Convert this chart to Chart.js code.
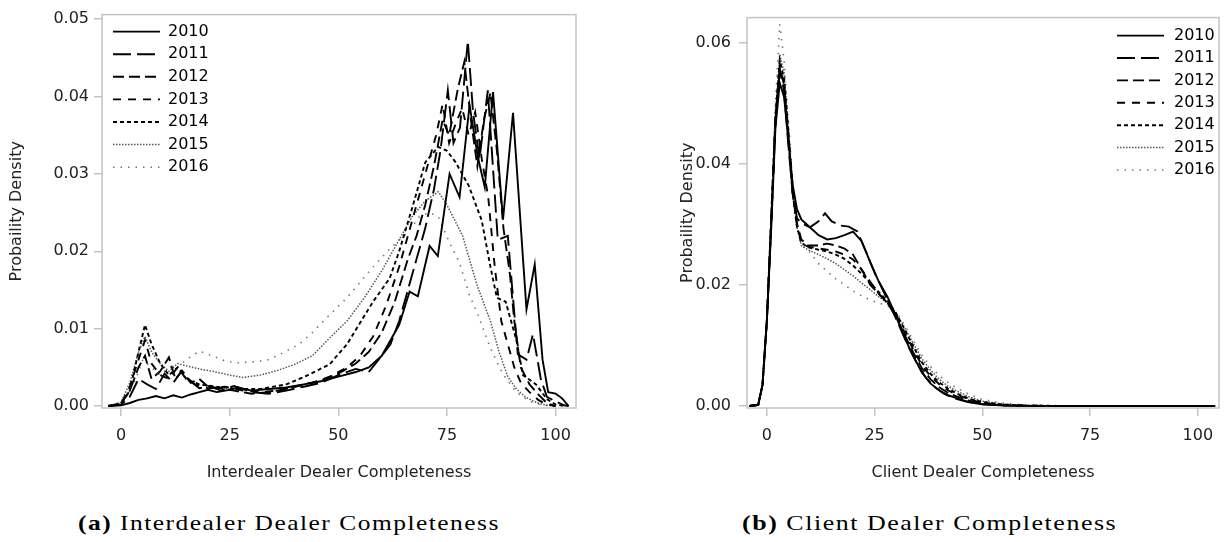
<!DOCTYPE html>
<html>
<head>
<meta charset="utf-8">
<script src="https://cdn.jsdelivr.net/npm/chart.js@4.4.1/dist/chart.umd.min.js"></script>
<style>
  html, body { margin: 0; padding: 0; background: #fff; }
  body { width: 1225px; height: 542px; position: relative; overflow: hidden; }
  .panel { position: absolute; top: 0; height: 490px; }
  #left { left: 0; width: 600px; }
  #right { left: 612px; width: 613px; }
  .caption { position: absolute; top: 511px; line-height: 24px; font-family: "Liberation Serif", serif;
             font-size: 22px; font-weight: normal; letter-spacing: 1.3px; color: #000;
             white-space: nowrap; transform-origin: left center; }
  .caption b { font-weight: bold; }
</style>
</head>
<body>
<div class="panel" id="left"><canvas id="interChart"></canvas></div>
<div class="panel" id="right"><canvas id="clientChart"></canvas></div>
<div class="caption" id="capA" style="left:78px"><b>(a)</b> Interdealer Dealer Completeness</div>
<div class="caption" id="capB" style="left:742px"><b>(b)</b> Client Dealer Completeness</div>
<script>
// ---- data: [completeness, density] ----
const years = ['2010', '2011', '2012', '2013', '2014', '2015', '2016'];
const xTicks = [0, 25, 50, 75, 100];
const interYTicks = [0, 0.01, 0.02, 0.03, 0.04, 0.05];
const clientYTicks = [0, 0.02, 0.04, 0.06];

// panel (a) interdealer
const inter2010 = [[-3,0],[0,0.0001],[2,0.0004],[4,0.0008],[6,0.001],[8,0.0013],[10,0.001],[12,0.0014],[14,0.0011],[16,0.0015],[18,0.0018],[20,0.0021],[22,0.0018],[24,0.002],[27,0.0024],[30,0.002],[34,0.0022],[38,0.0024],[42,0.0028],[46,0.0032],[50,0.0038],[54,0.0044],[57,0.005],[60,0.0065],[62,0.0085],[64,0.0105],[66.4,0.0148],[68.3,0.0142],[71,0.0207],[72.9,0.0194],[75.6,0.03],[77.9,0.027],[80.2,0.0389],[82.1,0.0322],[83.7,0.0283],[85.6,0.0406],[87.9,0.0241],[90.2,0.0379],[93.3,0.0125],[95.2,0.0183],[97,0.006],[98.3,0.0018],[100,0.0016],[101.5,0.001],[103,0]];
const inter2011 = [[-3,0],[0,0.0002],[2,0.0012],[4,0.0035],[6,0.0028],[8,0.0022],[10,0.0042],[12,0.003],[14,0.0046],[16,0.0032],[18,0.0023],[20,0.0026],[23,0.002],[26,0.0026],[30,0.0018],[34,0.0016],[38,0.002],[42,0.0025],[46,0.003],[50,0.004],[54,0.0048],[57,0.0044],[60,0.0065],[62,0.008],[64,0.011],[66,0.015],[68,0.019],[70,0.023],[72,0.028],[73.5,0.033],[75.2,0.0408],[76.5,0.034],[78,0.036],[79.8,0.0472],[81,0.038],[82.5,0.032],[84.4,0.0408],[86.7,0.0215],[89,0.022],[91.3,0.0067],[93.3,0.006],[94.8,0.0093],[96.6,0.0035],[98,0.0012],[100,0.0006],[102,0.0001],[103,0]];
const inter2012 = [[-3,0],[0,0.0003],[2,0.002],[4,0.005],[5.5,0.0065],[7,0.0035],[9,0.0045],[11,0.0063],[12.5,0.0035],[14,0.0045],[16,0.003],[18,0.0035],[20,0.0025],[23,0.0023],[26,0.002],[30,0.0016],[34,0.0018],[38,0.0022],[42,0.0028],[46,0.0033],[50,0.0042],[54,0.0055],[57,0.007],[60,0.0095],[63,0.0135],[66,0.019],[68,0.022],[70,0.026],[72,0.031],[74,0.037],[75.5,0.035],[77.5,0.041],[79,0.0445],[80.5,0.037],[82,0.031],[83.5,0.037],[85,0.0405],[86.5,0.033],[88,0.023],[89.5,0.017],[90.5,0.011],[92,0.005],[94,0.0028],[96,0.0015],[98,0.0004],[100,0]];
const inter2013 = [[-3,0],[0,0.0003],[2,0.0025],[4,0.006],[5.5,0.0085],[7,0.0055],[9,0.004],[11,0.0035],[13,0.005],[15,0.0035],[17,0.0028],[20,0.0023],[24,0.0025],[28,0.002],[32,0.0018],[36,0.002],[40,0.0025],[44,0.003],[48,0.0038],[52,0.005],[55,0.0065],[58,0.009],[61,0.013],[64,0.018],[67,0.024],[69,0.028],[71,0.032],[72.5,0.035],[74,0.039],[75.5,0.034],[77,0.0365],[78.5,0.0385],[80,0.035],[81.5,0.038],[83,0.032],[84.5,0.027],[86,0.018],[87.5,0.011],[89,0.008],[90.5,0.005],[92,0.003],[94,0.0018],[96,0.0008],[98,0.0002],[100,0]];
const inter2014 = [[-3,0],[0,0.0003],[2,0.002],[4,0.007],[5.5,0.0105],[7,0.008],[9,0.0055],[11,0.004],[13,0.005],[15,0.0035],[18,0.0028],[22,0.0025],[27,0.0022],[32,0.0022],[38,0.0028],[43,0.004],[48,0.0054],[52,0.008],[55.7,0.0114],[58,0.0135],[61.8,0.0165],[64,0.02],[67.2,0.026],[70,0.0315],[73,0.0335],[75,0.033],[77,0.0315],[80,0.0285],[83,0.024],[85,0.018],[86.5,0.014],[88.5,0.0135],[91,0.0085],[92.5,0.004],[95.5,0.0028],[98,0.0009],[100,0.0002],[102,0]];
const inter2015 = [[-3,0],[0,0.0005],[2,0.003],[4,0.007],[5.5,0.009],[7,0.007],[9,0.0055],[11,0.0045],[13,0.0055],[15,0.0052],[18,0.0048],[21,0.0045],[25,0.004],[28,0.0037],[32,0.004],[36,0.0046],[40,0.0054],[44,0.0065],[48,0.0088],[52,0.011],[56,0.014],[60,0.0175],[64,0.0215],[67,0.0245],[70,0.0265],[73,0.0277],[75,0.026],[78.6,0.022],[82,0.0155],[85,0.011],[87,0.007],[89,0.0038],[91,0.0022],[93,0.0012],[95,0.0006],[97,0.0002],[100,0]];
const inter2016 = [[-3,0.0001],[-1,0.0003],[1,0.001],[3,0.003],[5,0.006],[7,0.005],[9,0.004],[11,0.005],[13,0.005],[15,0.006],[18,0.0071],[21,0.0065],[24,0.0058],[27,0.0056],[30,0.0057],[33.5,0.0059],[37,0.0068],[41,0.008],[44,0.0095],[48,0.0118],[52,0.014],[55,0.016],[58,0.018],[61.8,0.0203],[66,0.0225],[68.7,0.0245],[71,0.025],[73,0.0245],[75.6,0.0211],[77.9,0.0185],[80.2,0.0143],[82,0.012],[85,0.0075],[88,0.004],[91,0.0018],[94,0.0006],[97,0.0001],[100,0]];

// panel (b) client
const client2010 = [[-4,0],[-2,0.0002],[-1,0.0035],[0,0.014],[1,0.029],[2,0.046],[3,0.0533],[4,0.051],[5,0.044],[6,0.0365],[7,0.0325],[8,0.0308],[10,0.0295],[12,0.0282],[14,0.0275],[16,0.0277],[18,0.0282],[20,0.0288],[22,0.0272],[24,0.0237],[26,0.0205],[28,0.018],[30,0.0148],[32,0.0112],[34,0.0082],[36,0.0055],[38,0.0037],[40,0.0026],[42,0.0018],[44,0.0013],[47,0.0006],[50,0.0003],[55,0.0001],[60,0.00003],[70,0],[104,0]];
const client2011 = [[-4,0],[-2,0.0002],[-1,0.0035],[0,0.014],[1,0.03],[2,0.047],[3,0.0555],[4,0.052],[5,0.043],[6,0.035],[7,0.031],[8,0.0302],[10,0.0295],[12,0.0305],[13.5,0.0318],[15,0.0305],[17,0.0298],[19,0.0296],[21,0.0288],[23,0.0255],[25,0.022],[27,0.019],[29,0.016],[31,0.0128],[33,0.0096],[35,0.0068],[37,0.0046],[39,0.0031],[41,0.0021],[43,0.0014],[46,0.0008],[50,0.0003],[55,0.0001],[60,0.00003],[70,0],[104,0]];
const client2012 = [[-4,0],[-2,0.0002],[-1,0.0035],[0,0.014],[1,0.03],[2,0.047],[3,0.0558],[4,0.053],[5,0.044],[6,0.035],[7,0.03],[8,0.0275],[9.5,0.0265],[12,0.0265],[14,0.0268],[16,0.0265],[18,0.026],[20,0.025],[22,0.0225],[24,0.02],[26,0.0185],[28,0.017],[30,0.0147],[32,0.0117],[34,0.0088],[36,0.0062],[38,0.0044],[40,0.0031],[42,0.0022],[44,0.0016],[47,0.0009],[50,0.0004],[55,0.00015],[60,0.00005],[70,0],[104,0]];
const client2013 = [[-4,0],[-2,0.0002],[-1,0.0035],[0,0.014],[1,0.03],[2,0.047],[3,0.0555],[4,0.053],[5,0.045],[6,0.036],[7,0.03],[8,0.027],[9.5,0.0263],[12,0.026],[14,0.0258],[16,0.0255],[18,0.025],[20,0.0242],[22,0.0225],[24,0.0205],[26,0.0185],[28,0.017],[30,0.015],[32,0.0121],[34,0.0093],[36,0.0067],[38,0.0049],[40,0.0036],[42,0.0026],[44,0.0019],[47,0.0011],[50,0.0005],[55,0.0002],[60,0.00006],[70,0],[104,0]];
const client2014 = [[-4,0],[-2,0.0002],[-1,0.0035],[0,0.014],[1,0.031],[2,0.048],[3,0.057],[4,0.054],[5,0.045],[6,0.035],[7,0.0295],[8,0.027],[9.5,0.0262],[12,0.0258],[14,0.0255],[16,0.025],[18,0.0243],[20,0.0232],[22,0.0218],[24,0.0203],[26,0.0188],[28,0.0173],[30,0.0153],[32,0.0126],[34,0.0098],[36,0.0072],[38,0.0053],[40,0.0039],[42,0.0029],[44,0.0021],[47,0.0012],[50,0.00065],[55,0.00025],[60,0.00008],[70,0],[104,0]];
const client2015 = [[-4,0],[-2,0.0002],[-1,0.0035],[0,0.014],[1,0.031],[2,0.048],[3,0.058],[4,0.055],[5,0.046],[6,0.036],[7,0.0295],[8,0.0265],[9.5,0.0258],[12,0.025],[14,0.0243],[16,0.0235],[18,0.0225],[20,0.0215],[22,0.0203],[24,0.0192],[26,0.018],[28,0.017],[30,0.0153],[32,0.0129],[34,0.0103],[36,0.0078],[38,0.0059],[40,0.0044],[42,0.0033],[44,0.0025],[47,0.0015],[50,0.0008],[55,0.0003],[60,0.0001],[70,0.00002],[104,0]];
const client2016 = [[-4,0],[-2,0.0002],[-1,0.0035],[0,0.014],[1,0.031],[2,0.05],[3,0.063],[4,0.057],[5,0.047],[6,0.037],[7,0.03],[8,0.0265],[9.5,0.0258],[12,0.0235],[14,0.0222],[16,0.021],[18,0.02],[20,0.019],[22,0.0182],[24,0.0175],[26,0.017],[28,0.0166],[30,0.0155],[32,0.0133],[34,0.0108],[36,0.0084],[38,0.0065],[40,0.005],[42,0.0039],[44,0.003],[47,0.0019],[50,0.0011],[53,0.0007],[56,0.0004],[60,0.00015],[70,0.00003],[104,0]];

// ---- styles ----
const FONT = '"DejaVu Sans", sans-serif';
const GRAY = '#c4c4c4';
const lineDash = [[], [18, 6], [11, 5], [8, 7], [4, 3], [1.5, 1.5], [1.5, 6]];
const lineColor = ['#000', '#000', '#000', '#000', '#000', '#555', '#777'];
const lineWidth = [1.9, 1.9, 1.9, 1.9, 1.9, 1.5, 1.6];

function buildDatasets(series) {
    return series.map((pts, i) => ({
        label: years[i],
        data: pts.map(p => ({ x: p[0], y: p[1] })),
        borderColor: lineColor[i],
        borderWidth: lineWidth[i],
        borderDash: lineDash[i],
        pointRadius: 0,
        fill: false,
        tension: 0
    }));
}

// box around the plot area
const framePlugin = {
    id: 'frame',
    beforeDatasetsDraw(chart) {
        const { ctx, chartArea: a } = chart;
        ctx.save();
        ctx.strokeStyle = GRAY;
        ctx.lineWidth = 1.5;
        ctx.strokeRect(a.left, a.top, a.right - a.left, a.bottom - a.top);
        ctx.restore();
    }
};

// legend drawn inside the plot area
const legendPlugin = {
    id: 'insideLegend',
    afterDraw(chart, args, opts) {
        const { ctx, chartArea: a } = chart;
        ctx.save();
        ctx.font = '16px ' + FONT;
        ctx.textBaseline = 'middle';
        chart.data.datasets.forEach((ds, i) => {
            const y = a.top + opts.top + i * opts.rowH;
            const x0 = opts.fromRight ? a.right - opts.fromRight : a.left + opts.left;
            ctx.setLineDash(ds.borderDash);
            ctx.strokeStyle = ds.borderColor;
            ctx.lineWidth = ds.borderWidth;
            ctx.beginPath();
            ctx.moveTo(x0, y);
            ctx.lineTo(x0 + opts.lineLen, y);
            ctx.stroke();
            ctx.setLineDash([]);
            ctx.fillStyle = '#000';
            ctx.fillText(ds.label, x0 + opts.lineLen + opts.gap, y);
        });
        ctx.restore();
    }
};

function makeChart(id, cfg) {
    return new Chart(document.getElementById(id), {
        type: 'line',
        data: { datasets: buildDatasets(cfg.series) },
        plugins: [framePlugin, legendPlugin],
        options: {
            responsive: true,
            maintainAspectRatio: false,
            animation: false,
            layout: { padding: cfg.padding },
            plugins: {
                legend: { display: false },
                tooltip: { enabled: false },
                insideLegend: cfg.legend
            },
            scales: {
                x: {
                    type: 'linear',
                    min: cfg.xMin, max: cfg.xMax,
                    afterBuildTicks: s => { s.ticks = xTicks.map(v => ({ value: v })); },
                    afterFit: s => { s.height = 82; },
                    ticks: { color: '#222', font: { size: 16, family: FONT }, padding: 10, maxRotation: 0 },
                    grid: { drawOnChartArea: false, drawTicks: true, tickLength: 8, color: GRAY, lineWidth: 1.5 },
                    border: { display: false },
                    title: { display: true, text: cfg.xTitle, color: '#222',
                             font: { size: 16, family: FONT }, padding: { top: 0, bottom: 8 } }
                },
                y: {
                    type: 'linear',
                    min: cfg.yMin, max: cfg.yMax,
                    afterBuildTicks: s => { s.ticks = cfg.yTicks.map(v => ({ value: v })); },
                    afterFit: s => { s.width = cfg.yWidth; },
                    ticks: { color: '#222', font: { size: 16, family: FONT }, padding: cfg.yPad,
                             callback: v => v.toFixed(2) },
                    grid: { drawOnChartArea: false, drawTicks: true, tickLength: 8, color: GRAY, lineWidth: 1.5 },
                    border: { display: false },
                    title: { display: true, text: 'Probaility Density', color: '#222',
                             font: { size: 16, family: FONT }, padding: { top: 7, bottom: 0 } }
                }
            }
        }
    });
}

makeChart('interChart', {
    series: [inter2010, inter2011, inter2012, inter2013, inter2014, inter2015, inter2016],
    padding: { left: 0, right: 24, top: 8, bottom: 0 },
    xMin: -4.4, xMax: 104.7, yMin: -0.00025, yMax: 0.0506,
    yTicks: interYTicks, yWidth: 102, yPad: 5,
    xTitle: 'Interdealer Dealer Completeness',
    legend: { left: 11, top: 17, rowH: 22.6, lineLen: 47, gap: 8 }
});

makeChart('clientChart', {
    series: [client2010, client2011, client2012, client2013, client2014, client2015, client2016],
    padding: { left: 59, right: 6, top: 2, bottom: 0 },
    xMin: -4.6, xMax: 104.9, yMin: -0.00032, yMax: 0.0641,
    yTicks: clientYTicks, yWidth: 76, yPad: 8,
    xTitle: 'Client Dealer Completeness',
    legend: { fromRight: 102, top: 18, rowH: 22.4, lineLen: 47, gap: 10 }
});

// stretch captions to the width they take in the figure
[['capA', 422], ['capB', 375]].forEach(([id, w]) => {
    const el = document.getElementById(id);
    el.style.transform = 'scaleX(' + (w / el.offsetWidth).toFixed(3) + ')';
});
</script>
</body>
</html>
